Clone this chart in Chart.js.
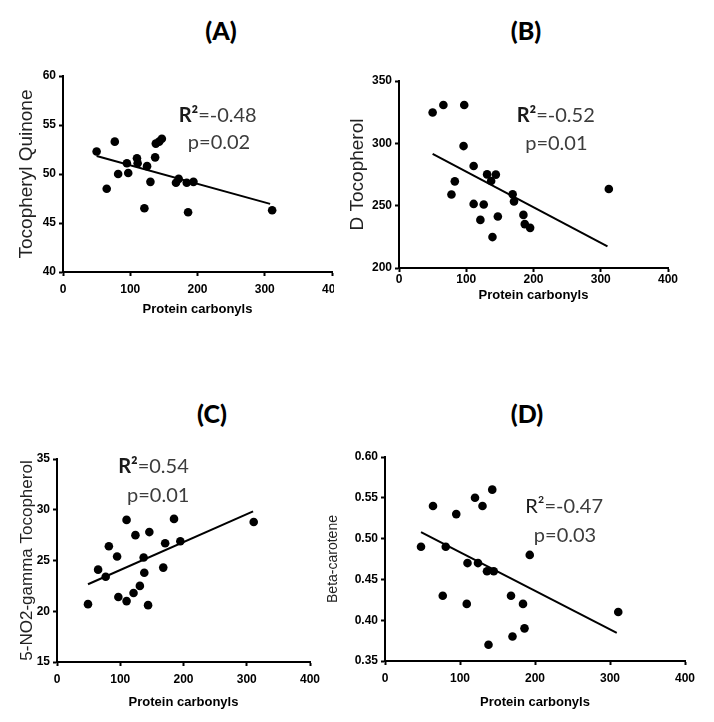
<!DOCTYPE html>
<html>
<head>
<meta charset="utf-8">
<script src="https://cdn.jsdelivr.net/npm/chart.js@4.4.0/dist/chart.umd.min.js"></script>
<style>
  body { margin: 0; background: #fff; width: 714px; height: 722px; position: relative; overflow: hidden; }
  .clip { position: absolute; overflow: hidden; }
  .clip canvas { position: absolute; left: 0; top: 0; }
  .ttl { position: absolute; font: 900 25px Lato, sans-serif; color: #000; transform: translate(-50%, -50%); white-space: nowrap; }
</style>
</head>
<body>

<div class="ttl" style="left:221px;top:30px">(A)</div>
<div class="ttl" style="left:526px;top:30px">(B)</div>
<div class="ttl" style="left:212px;top:413px">(C)</div>
<div class="ttl" style="left:527px;top:413px">(D)</div>

<div class="clip" id="wrapA"><canvas id="chartA"></canvas></div>
<div class="clip" id="wrapB"><canvas id="chartB"></canvas></div>
<div class="clip" id="wrapC"><canvas id="chartC"></canvas></div>
<div class="clip" id="wrapD"><canvas id="chartD"></canvas></div>

<script>
// ---- data ----
const xTicks = [0, 100, 200, 300, 400];

// (A) Tocopheryl Quinone
const carbA   = [50, 77, 65, 82, 95, 97, 110, 111, 125, 130, 121, 137, 138, 143, 147, 168, 172, 184, 186, 194, 311];
const quinone = [52.3, 53.3, 48.5, 50.0, 51.1, 50.1, 51.6, 51.1, 50.8, 49.2, 46.5, 51.7, 53.1, 53.3, 53.6, 49.1, 49.5, 49.1, 46.1, 49.2, 46.3];
const fitAx = [50, 308];
const fitAy = [51.83, 46.95];
const yTicksA = [40, 45, 50, 55, 60];

// (B) D Tocopherol
const carbB  = [50, 66, 97, 96, 83, 78, 111, 111, 126, 121, 131, 137, 144, 139, 147, 169, 171, 185, 187, 195, 312];
const dToco  = [324.7, 330.8, 330.8, 297.8, 269.5, 258.9, 281.8, 251.4, 250.9, 238.6, 275.1, 269.8, 274.9, 224.8, 241.3, 259.1, 253.3, 242.6, 235.2, 232.2, 263.4];
const fitBx = [50, 310];
const fitBy = [291.6, 217.3];
const yTicksB = [200, 250, 300, 350];

// (C) 5-NO2-gamma Tocopherol
const carbC    = [49, 65, 77, 82, 95, 97, 110, 110, 121, 124, 131, 137, 138, 146, 144, 168, 171, 185, 195, 311];
const no2Gamma = [20.7, 24.1, 23.4, 26.4, 25.4, 21.4, 29.0, 21.0, 21.8, 27.5, 22.5, 25.3, 23.8, 27.8, 20.6, 24.3, 26.7, 29.1, 26.9, 28.8];
const fitCx = [49, 310];
const fitCy = [22.66, 29.84];
const yTicksC = [15, 20, 25, 30, 35];

// (D) Beta-carotene
const carbD        = [48, 64, 77, 81, 95, 110, 109, 120, 124, 130, 136, 138, 143, 145, 168, 170, 184, 186, 193, 311];
const betaCarotene = [0.49, 0.54, 0.43, 0.49, 0.53, 0.47, 0.42, 0.55, 0.47, 0.54, 0.46, 0.37, 0.56, 0.46, 0.43, 0.38, 0.42, 0.39, 0.48, 0.41];
const fitDx = [48, 309];
const fitDy = [0.508, 0.3845];
const yTicksD = [0.35, 0.40, 0.45, 0.50, 0.55, 0.60];

// ---- stats text plugin (R² / p) ----
const statText = {
  id: 'statText',
  afterDatasetsDraw(chart, args, o) {
    if (!o || !o.r2) return;
    const { ctx, scales: { x, y } } = chart;
    ctx.save();
    ctx.textBaseline = 'middle';
    const size = o.size || 20;
    const boldF = (o.boldR ? 'bold ' : '') + size + 'px Lato, sans-serif';
    const regF = size + 'px Lato, sans-serif';
    ctx.font = boldF;
    const w1 = ctx.measureText('R²').width;
    ctx.font = regF;
    const w2 = ctx.measureText('=' + o.r2).width;
    let px = x.getPixelForValue(o.r2At[0]) - (w1 + w2) / 2;
    let py = y.getPixelForValue(o.r2At[1]);
    ctx.textAlign = 'left';
    ctx.font = boldF;
    ctx.fillStyle = '#1a1a1a';
    ctx.fillText('R²', px, py);
    ctx.font = regF;
    ctx.fillStyle = '#3c3c3c';
    ctx.fillText('=' + o.r2, px + w1, py);
    ctx.textAlign = 'center';
    ctx.fillText('p=' + o.p, x.getPixelForValue(o.pAt[0]), y.getPixelForValue(o.pAt[1]));
    ctx.restore();
  }
};

const tickFont = { family: 'Liberation Sans, Arial, sans-serif', size: 12, weight: 'bold' };

function makePanel(p) {
  const wrap = document.getElementById(p.wrap);
  wrap.style.left = p.cl + 'px';
  wrap.style.top = p.ct + 'px';
  wrap.style.width = (p.clipW || p.cw) + 'px';
  wrap.style.height = p.ch + 'px';
  const cv = document.getElementById(p.id);
  cv.width = p.cw;
  cv.height = p.ch;

  const lhY = p.yTitleSize * 1.2;
  const lhX = 13 * 1.2;
  const pl = p.yTitleX - lhY / 2 - p.cl;
  const wy = p.area.l - p.cl - pl;
  const pt = p.area.t - p.ct;
  const pr = p.cl + p.cw - p.area.r;
  const hx = p.xTitleY - p.area.b + lhX / 2;
  const pb = p.ct + p.ch - p.area.b - hx;

  const pts = p.xs.map((v, i) => ({ x: v, y: p.ys[i] }));
  const fit = p.fx.map((v, i) => ({ x: v, y: p.fy[i] }));

  return new Chart(cv, {
    type: 'scatter',
    data: {
      datasets: [
        { type: 'line', data: fit, borderColor: '#000', borderWidth: 2, pointRadius: 0, fill: false, order: 2 },
        { data: pts, backgroundColor: '#000', borderColor: '#000', pointRadius: 4.3, borderWidth: 0, order: 1 }
      ]
    },
    options: {
      responsive: false,
      animation: false,
      devicePixelRatio: 1,
      layout: { padding: { left: pl, top: pt, right: pr, bottom: pb } },
      plugins: {
        legend: { display: false },
        tooltip: { enabled: false },
        statText: p.stat
      },
      scales: {
        x: {
          type: 'linear',
          min: 0, max: 400,
          afterBuildTicks: s => { s.ticks = xTicks.map(v => ({ value: v })); },
          afterFit: s => { s.height = hx; },
          border: { display: true, color: '#000', width: 2 },
          grid: { drawOnChartArea: false, drawTicks: true, tickLength: 4, tickWidth: 2, tickColor: '#000', color: '#000' },
          ticks: { color: '#000', font: tickFont, padding: p.xTickPad, maxRotation: 0 },
          title: { display: true, text: 'Protein carbonyls', color: '#000', padding: 0,
                   font: { family: 'Liberation Sans, Arial, sans-serif', size: 13, weight: 'bold', lineHeight: 1.2 } }
        },
        y: {
          type: 'linear',
          min: p.yTicks[0], max: p.yTicks[p.yTicks.length - 1],
          afterBuildTicks: s => { s.ticks = p.yTicks.map(v => ({ value: v })); },
          afterFit: s => { s.width = wy; },
          border: { display: true, color: '#000', width: 2 },
          grid: { drawOnChartArea: false, drawTicks: true, tickLength: 4, tickWidth: 2, tickColor: '#000', color: '#000' },
          ticks: { color: '#000', font: tickFont, padding: 3, callback: v => p.yFmt ? v.toFixed(2) : v },
          title: { display: true, text: p.yTitle, color: '#222', padding: 0,
                   font: { family: 'Liberation Sans, Arial, sans-serif', size: p.yTitleSize, lineHeight: 1.2 } }
        }
      }
    },
    plugins: [statText]
  });
}

makePanel({
  id: 'chartA', wrap: 'wrapA', cl: 0, ct: 0, cw: 357, ch: 340, clipW: 334,
  area: { l: 63, t: 76, r: 332, b: 272 }, yTitleX: 27, yTitleSize: 19, xTitleY: 309, xTickPad: 6,
  xs: carbA, ys: quinone, fx: fitAx, fy: fitAy, yTicks: yTicksA, yTitle: 'Tocopheryl Quinone',
  stat: { r2: '-0.48', p: '0.02', r2At: [230, 56.0], pAt: [232, 53.2], boldR: true }
});

makePanel({
  id: 'chartB', wrap: 'wrapB', cl: 340, ct: 0, cw: 374, ch: 340,
  area: { l: 399, t: 81, r: 668, b: 268 }, yTitleX: 358, yTitleSize: 19, xTitleY: 295, xTickPad: 0,
  xs: carbB, ys: dToco, fx: fitBx, fy: fitBy, yTicks: yTicksB, yTitle: 'D Tocopherol',
  stat: { r2: '-0.52', p: '0.01', r2At: [233, 322.6], pAt: [234, 300], boldR: true }
});

makePanel({
  id: 'chartC', wrap: 'wrapC', cl: 0, ct: 380, cw: 357, ch: 342,
  area: { l: 57, t: 459, r: 310, b: 662 }, yTitleX: 27, yTitleSize: 17, xTitleY: 702, xTickPad: 6,
  xs: carbC, ys: no2Gamma, fx: fitCx, fy: fitCy, yTicks: yTicksC, yTitle: '5-NO2-gamma Tocopherol',
  stat: { r2: '0.54', p: '0.01', r2At: [152.5, 34.3], pAt: [160, 31.4], boldR: true }
});

makePanel({
  id: 'chartD', wrap: 'wrapD', cl: 310, ct: 380, cw: 404, ch: 342,
  area: { l: 385, t: 457, r: 685, b: 661 }, yTitleX: 333, yTitleSize: 14, xTitleY: 702, xTickPad: 6,
  xs: carbD, ys: betaCarotene, fx: fitDx, fy: fitDy, yTicks: yTicksD, yTitle: 'Beta-carotene', yFmt: true,
  stat: { r2: '-0.47', p: '0.03', r2At: [238.8, 0.5396], pAt: [240, 0.504], boldR: false }
});
</script>
</body>
</html>
